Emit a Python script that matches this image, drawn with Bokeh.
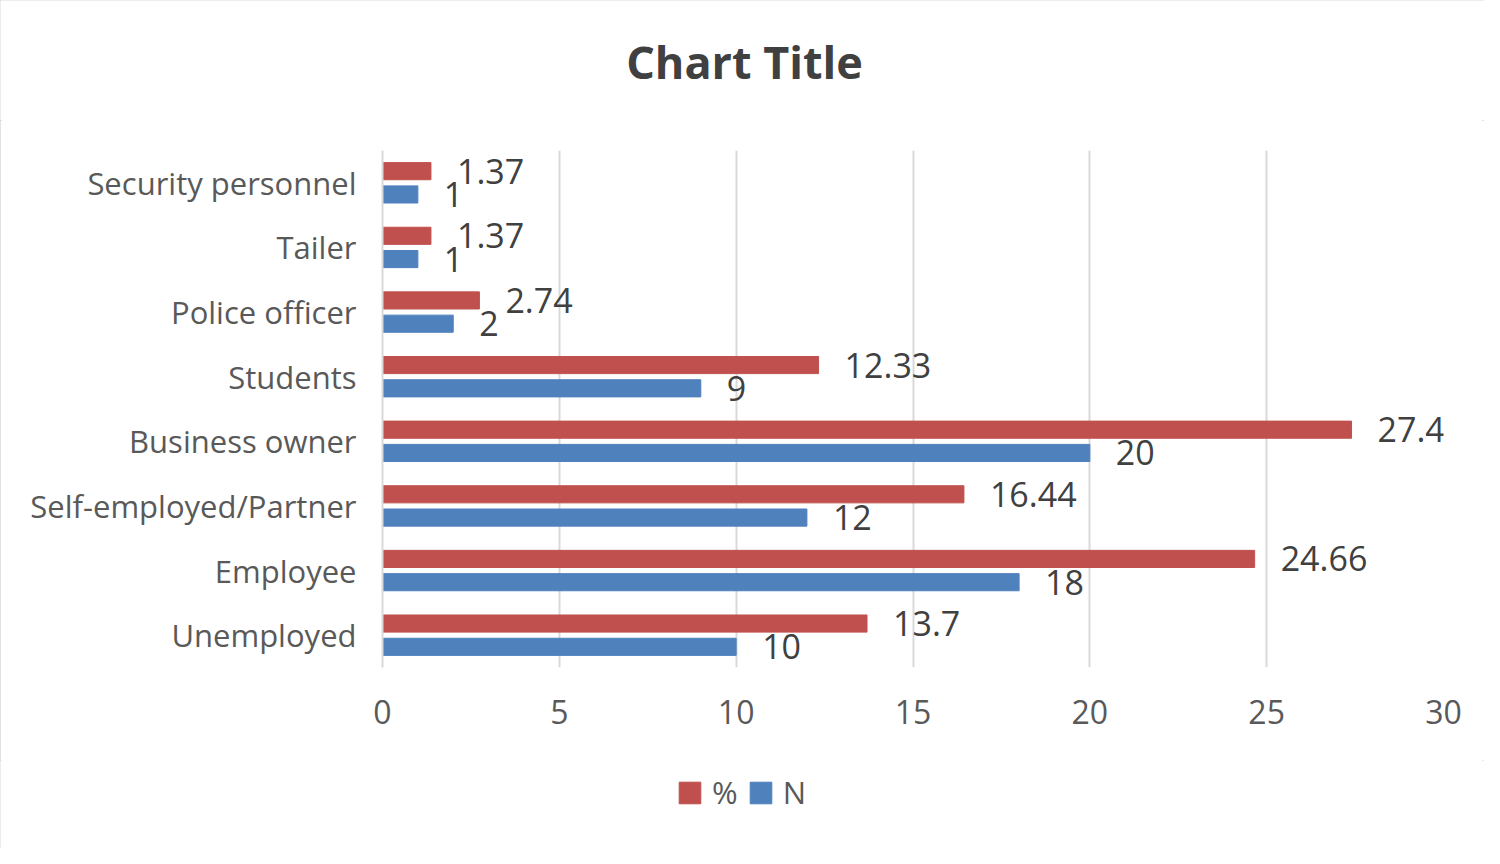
from bokeh.plotting import figure
from bokeh.models import (FactorRange, Range1d, SingleIntervalTicker, ColumnDataSource,
                          Legend, LegendItem, Label)
from bokeh.layouts import column
from bokeh.transform import dodge
from bokeh.core.properties import value
from bokeh.embed import file_html
from bokeh.resources import INLINE

categories = ["Unemployed", "Employee", "Self-employed/Partner", "Business owner",
              "Students", "Police officer", "Tailer", "Security personnel"]
pct = [13.7, 24.66, 16.44, 27.4, 12.33, 2.74, 1.37, 1.37]
n = [10, 18, 12, 20, 9, 2, 1, 1]
pct_labels = ["13.7", "24.66", "16.44", "27.4", "12.33", "2.74", "1.37", "1.37"]
n_labels = ["10", "18", "12", "20", "9", "2", "1", "1"]
series_names = ["%", "N"]
chart_title = "Chart Title"

RED = "#C0504D"
BLUE = "#4F81BD"
FONT = "Open Sans"
W = 1484
H_HEAD, H_MAIN, H_FOOT = 120, 640, 88


def blank(height):
    f = figure(width=W, height=height, x_range=Range1d(0, W), y_range=Range1d(0, height),
               output_backend="svg", toolbar_location=None,
               x_axis_location=None, y_axis_location=None, frame_align=False,
               min_border_left=0, min_border_right=0, min_border_top=0, min_border_bottom=0)
    f.grid.visible = False
    f.outline_line_color = None
    return f


src = ColumnDataSource(dict(cat=categories, pct=pct, n=n, pl=pct_labels, nl=n_labels))

# --- title strip
head = blank(H_HEAD)
head.add_layout(Label(x=744, y=H_HEAD - 61, text=chart_title, text_align="center",
                      text_baseline="alphabetic", text_font=FONT, text_font_size="45px",
                      text_font_style="bold", text_color="#404040"))

# --- main chart
p = figure(width=W, height=H_MAIN, y_range=FactorRange(*categories), x_range=Range1d(0, 30),
           output_backend="svg", toolbar_location=None, frame_align=False,
           min_border_left=382, min_border_right=41, min_border_top=30, min_border_bottom=93)

p.hbar(y=dodge("cat", 0.18, range=p.y_range), right="pct", left=0, height=0.265,
       color=RED, source=src)
p.hbar(y=dodge("cat", -0.18, range=p.y_range), right="n", left=0, height=0.265,
       color=BLUE, source=src)

p.text(x="pct", y=dodge("cat", 0.18, range=p.y_range), text="pl", source=src,
       x_offset=26, text_baseline="middle", text_align="left",
       text_font=value(FONT), text_font_size="34px", text_color="#404040")
p.text(x="n", y=dodge("cat", -0.18, range=p.y_range), text="nl", source=src,
       x_offset=26, text_baseline="middle", text_align="left",
       text_font=value(FONT), text_font_size="34px", text_color="#404040")

p.xaxis.ticker = SingleIntervalTicker(interval=5)
p.xaxis.axis_line_color = None
p.xaxis.major_tick_line_color = None
p.xaxis.minor_tick_line_color = None
p.xaxis.major_label_standoff = 26
p.xaxis.major_label_text_font = FONT
p.xaxis.major_label_text_font_size = "32px"
p.xaxis.major_label_text_color = "#595959"

p.yaxis.axis_line_color = "#d9d9d9"
p.yaxis.axis_line_width = 2
p.yaxis.major_tick_line_color = None
p.yaxis.minor_tick_line_color = None
p.yaxis.major_label_standoff = 20
p.yaxis.major_label_text_font = FONT
p.yaxis.major_label_text_font_size = "31px"
p.yaxis.major_label_text_color = "#595959"

p.xgrid.grid_line_color = "#d9d9d9"
p.xgrid.grid_line_width = 2
p.ygrid.grid_line_color = None
p.outline_line_color = None

# --- legend strip (hidden stand-in renderers carry the series styles)
foot = blank(H_FOOT)
lg_pct = foot.hbar(y="n", right="pct", left=0, height=1, color=RED, source=src, visible=False)
lg_n = foot.hbar(y="n", right="n", left=0, height=1, color=BLUE, source=src, visible=False)
legend = Legend(items=[LegendItem(label=series_names[0], renderers=[lg_pct]),
                       LegendItem(label=series_names[1], renderers=[lg_n])],
                orientation="horizontal", location=(676, 35),
                glyph_width=27, glyph_height=27, label_standoff=9, spacing=9,
                padding=0, margin=0, border_line_color=None, background_fill_alpha=0,
                inactive_fill_alpha=0,
                label_text_font=FONT, label_text_font_size="31px", label_text_color="#595959")
foot.add_layout(legend, "center")

layout = column(head, p, foot, spacing=0)
layout.styles = {"outline": "2px solid #d9d9d9", "outline-offset": "-2px"}

open("out.html", "w").write(file_html(layout, INLINE))
